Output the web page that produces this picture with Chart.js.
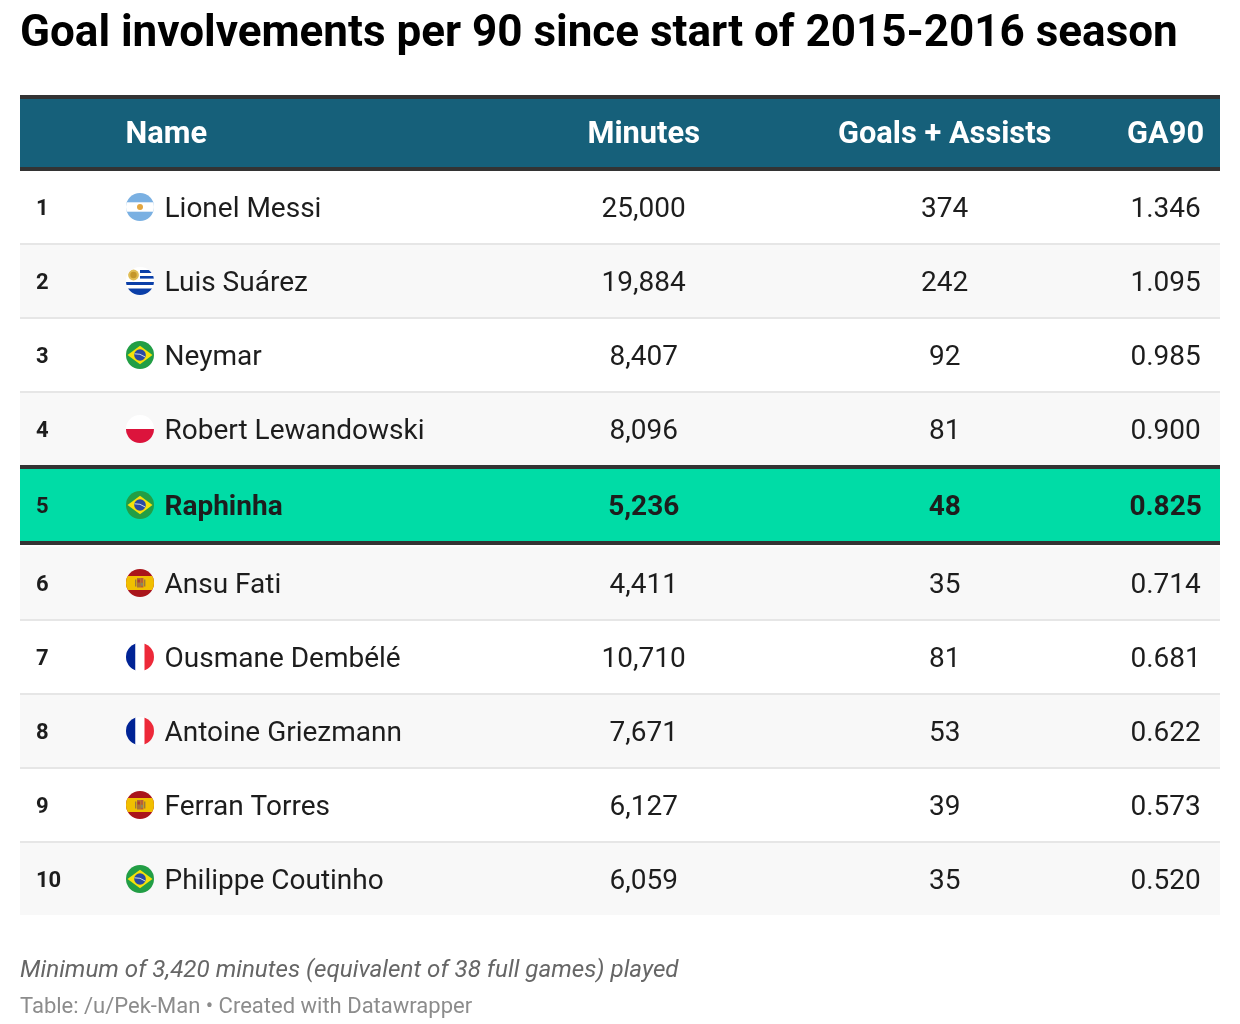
<!DOCTYPE html>
<html>
<head>
<meta charset="utf-8">
<style>html,body{margin:0;padding:0;background:#fff}canvas{display:block}</style>
<script src="https://cdn.jsdelivr.net/npm/chart.js@4/dist/chart.umd.min.js"></script>
</head>
<body>
<canvas id="c" width="1240" height="1024"></canvas>
<script>
const titleText = "Goal involvements per 90 since start of 2015-2016 season";
const headers = ["Name", "Minutes", "Goals + Assists", "GA90"];
const ranks = ["1","2","3","4","5","6","7","8","9","10"];
const names = ["Lionel Messi","Luis Suárez","Neymar","Robert Lewandowski","Raphinha","Ansu Fati","Ousmane Dembélé","Antoine Griezmann","Ferran Torres","Philippe Coutinho"];
const countries = ["ar","uy","br","pl","br","es","fr","fr","es","br"];
const minutes = ["25,000","19,884","8,407","8,096","5,236","4,411","10,710","7,671","6,127","6,059"];
const goalsAssists = ["374","242","92","81","48","35","81","53","39","35"];
const ga90 = ["1.346","1.095","0.985","0.900","0.825","0.714","0.681","0.622","0.573","0.520"];
const highlighted = "Raphinha";
const noteText = "Minimum of 3,420 minutes (equivalent of 38 full games) played";
const sourceText = "Table: /u/Pek-Man • Created with Datawrapper";

/* layout: y scale is in row units, x scale is table width */
const ROW_PX = 74;
const AREA_TOP = 95, AREA_BOTTOM = 915, FIRST_ROW = 207;
const rowY = i => i + (i === 4 ? 2 : i > 4 ? 6 : 0) / ROW_PX;
const HEADER_Y = -1;
const TABLE_W = 1200;
const COL = { rank: 16, flag: 120, name: 144.5, nameHead: 105.5, minutes: 623.7, goals: 924.7, ga: 1145.6 };
const FF = "Roboto";
const INK = "#1d1d1d";

function makeFlag(code) {
  const c = document.createElement("canvas");
  c.width = c.height = 28;
  const g = c.getContext("2d");
  g.beginPath(); g.arc(14, 14, 14, 0, Math.PI * 2); g.clip();
  const rect = (col, x, y, w, h) => { g.fillStyle = col; g.fillRect(x, y, w, h); };
  const disc = (col, x, y, r) => { g.fillStyle = col; g.beginPath(); g.arc(x, y, r, 0, Math.PI * 2); g.fill(); };
  if (code === "ar") {
    rect("#7ab0e2", 0, 0, 28, 28); rect("#ffffff", 0, 9.3, 28, 9.4); disc("#e3a640", 14, 14, 3);
  } else if (code === "uy") {
    rect("#ffffff", 0, 0, 28, 28);
    const b = "#0b3fa8";
    rect(b, 14, 3, 14, 3); rect(b, 14, 9, 14, 2.6); rect(b, 0, 15, 28, 3); rect(b, 0, 21.5, 28, 6.5);
    disc("#e0bd55", 7.5, 8, 5.4); disc("#c4962a", 7.5, 8, 3.2);
  } else if (code === "br") {
    rect("#229e45", 0, 0, 28, 28);
    g.fillStyle = "#f6e10a"; g.beginPath(); g.moveTo(1.5, 14); g.lineTo(14, 4.8); g.lineTo(26.5, 14); g.lineTo(14, 23.2); g.closePath(); g.fill();
    disc("#2b49a3", 14, 14, 5.8);
    g.strokeStyle = "#dfe6f2"; g.lineWidth = 0.9; g.beginPath(); g.moveTo(8.6, 12.8); g.quadraticCurveTo(14, 12.2, 19.2, 16); g.stroke();
  } else if (code === "pl") {
    rect("#ffffff", 0, 0, 28, 14); rect("#dc143c", 0, 14, 28, 14);
  } else if (code === "fr") {
    rect("#002395", 0, 0, 9.5, 28); rect("#ffffff", 9.5, 0, 9, 28); rect("#ed2939", 18.5, 0, 9.5, 28);
  } else if (code === "es") {
    rect("#aa151b", 0, 0, 28, 28); rect("#f1bf00", 0, 7, 28, 14);
    rect("#9c7a3c", 9, 10.5, 1.4, 7); rect("#9c7a3c", 18, 10.5, 1.4, 7);
    rect("#a9713a", 11, 9, 3.2, 9.5); rect("#b5603a", 14.2, 9, 3.2, 9.5);
    rect("#b23a2b", 11.5, 10.5, 2.4, 3); rect("#8a8a5a", 14.6, 13.8, 2.4, 3);
  }
  return c;
}
const flagCache = {};
const flagFor = code => flagCache[code] || (flagCache[code] = makeFlag(code));

const cellSet = (label, x, values) => ({
  type: "scatter", label, order: 1, pointRadius: 0, pointHoverRadius: 0,
  data: values.map((v, i) => ({ x, y: rowY(i) })),
  cellTexts: values
});

const datasets = [
  { type: "bar", label: "header band", indexAxis: "y", grouped: false, order: 5, barThickness: 76,
    backgroundColor: "#16607a", data: [{ y: HEADER_Y, x: [0, TABLE_W] }] },
  { type: "bar", label: "row bands", indexAxis: "y", grouped: false, order: 4, barThickness: 72,
    backgroundColor: names.map((n, i) => n === highlighted ? "#00dca6" : i % 2 ? "#f8f8f8" : "#ffffff"),
    data: names.map((n, i) => ({ y: rowY(i), x: [0, TABLE_W] })) },
  { type: "scatter", label: "flags", order: 2, pointRadius: 14, pointHoverRadius: 14,
    pointStyle: countries.map(flagFor),
    data: countries.map((c, i) => ({ x: COL.flag, y: rowY(i) })) },
  cellSet("Rank", COL.rank, ranks),
  cellSet("Name", COL.name, names),
  cellSet("Minutes", COL.minutes, minutes),
  cellSet("Goals + Assists", COL.goals, goalsAssists),
  cellSet("GA90", COL.ga, ga90)
];

const aligns = { Rank: "left", Name: "left", Minutes: "center", "Goals + Assists": "center", GA90: "center" };

const tablePlugin = {
  id: "table",
  afterDatasetsDraw(chart) {
    const { ctx, scales: { x, y } } = chart;
    const L = x.getPixelForValue(0), W = x.getPixelForValue(TABLE_W) - L;
    const rule = (col, py, h) => { ctx.fillStyle = col; ctx.fillRect(L, py, W, h); };
    /* light row rules */
    names.forEach((n, i) => {
      if (i < 9) rule("#e6e6e6", Math.round(y.getPixelForValue(rowY(i))) + 36, 2);
    });
    /* dark rules */
    const dark = "#333333";
    const hc = y.getPixelForValue(HEADER_Y);
    rule(dark, Math.round(hc) - 38, 4);
    rule(dark, Math.round(hc) + 34, 4);
    const hi = names.indexOf(highlighted), hp = Math.round(y.getPixelForValue(rowY(hi)));
    rule(dark, hp - 40, 4);
    rule(dark, hp + 36, 4);

    ctx.save();
    ctx.textBaseline = "alphabetic";
    /* header text */
    ctx.fillStyle = "#ffffff";
    ctx.font = `700 30.8px ${FF}`;
    const headX = [COL.nameHead, COL.minutes, COL.goals, COL.ga];
    const headAl = ["left", "center", "center", "center"];
    headers.forEach((h, i) => {
      ctx.textAlign = headAl[i];
      ctx.fillText(h, x.getPixelForValue(headX[i]), hc + 10);
    });
    /* body text from the scatter points */
    chart.data.datasets.forEach((ds, di) => {
      if (!ds.cellTexts) return;
      const meta = chart.getDatasetMeta(di);
      meta.data.forEach((pt, i) => {
        const isHi = names[i] === highlighted;
        const isRank = ds.label === "Rank";
        ctx.font = isRank ? `700 22px ${FF}` : `${isHi ? 700 : 400} 28px ${FF}`;
        ctx.fillStyle = INK;
        ctx.textAlign = aligns[ds.label];
        ctx.fillText(ds.cellTexts[i], pt.x, pt.y + (isRank ? 8 : 10));
      });
    });
    /* notes */
    ctx.textAlign = "left";
    ctx.fillStyle = "#666666";
    ctx.font = `italic 400 24.2px ${FF}`;
    ctx.fillText(noteText, L, 977);
    ctx.fillStyle = "#8c8c8c";
    ctx.font = `400 22px ${FF}`;
    ctx.fillText(sourceText, L, 1013);
    ctx.restore();
  }
};

new Chart(document.getElementById("c"), {
  type: "scatter",
  data: { datasets },
  plugins: [tablePlugin],
  options: {
    responsive: false,
    animation: false,
    devicePixelRatio: 1,
    layout: { padding: { left: 20, right: 20, top: 0, bottom: 1024 - AREA_BOTTOM } },
    events: [],
    plugins: {
      legend: { display: false },
      tooltip: { enabled: false },
      title: {
        display: true, text: titleText, align: "start", color: "#000000",
        font: { family: FF, size: 44, weight: "700", lineHeight: 1.2 },
        padding: { top: 8.5, bottom: AREA_TOP - 8.5 - 44 * 1.2 }
      }
    },
    scales: {
      x: { type: "linear", display: false, min: 0, max: TABLE_W, offset: false, grid: { display: false } },
      y: { type: "linear", display: false, reverse: true, offset: false, grid: { display: false },
           min: (AREA_TOP - FIRST_ROW) / ROW_PX, max: (AREA_BOTTOM - FIRST_ROW) / ROW_PX }
    }
  }
});
</script>
</body>
</html>
